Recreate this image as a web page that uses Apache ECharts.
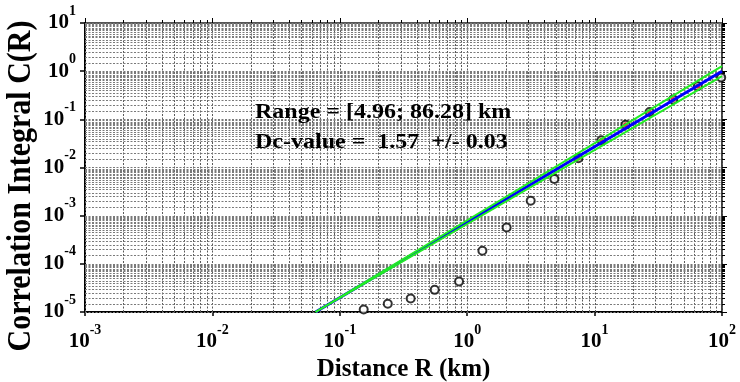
<!DOCTYPE html>
<html><head><meta charset="utf-8">
<script src="https://cdn.jsdelivr.net/npm/echarts@6/dist/echarts.min.js"></script>
<style>html,body{margin:0;padding:0;background:#fff}#c{width:740px;height:382px}</style>
</head><body><div id="c"></div>
<script>
// ---- data ----
const distanceR = [0.154, 0.238, 0.36, 0.556, 0.863, 1.316, 2.04, 3.15, 4.83, 7.45, 11.3, 17.5, 27.0, 41.4, 64.6, 98.6];
const correlationC = [1.13e-5, 1.48e-5, 1.9e-5, 2.88e-5, 4.3e-5, 1.87e-4, 5.7e-4, 2.04e-3, 5.8e-3, 0.0156, 0.0367, 0.0773, 0.1416, 0.2595, 0.489, 0.741];
const fitRangeR = [7.45, 11.3, 17.5, 27.0, 41.4, 64.6];
const fitRangeC = [0.0156, 0.0367, 0.0773, 0.1416, 0.2595, 0.489];
const fitLineR = [0.0645, 100];
const fitLineC = [1e-5, 1.0];
const boundUpperC = [1e-5, 1.27];
const boundLowerC = [1e-5, 0.787];
const xTickExponents = ['-3', '-2', '-1', '0', '1', '2'];
const yTickExponents = ['-5', '-4', '-3', '-2', '-1', '0', '1'];
const xTitle = 'Distance R (km)';
const yTitle = 'Correlation Integral C(R)';
const annotationLines = ['Range = [4.96; 86.28] km', 'Dc-value =  1.57  +/- 0.03'];

const X_MIN = 1e-3, X_MAX = 100, Y_MIN = 1e-5, Y_MAX = 10;
const FONT = '"Liberation Serif", "Times New Roman", serif';

// grid line positions (log-axis minor divisions)
const xMajor = [], xMinor = [], yMajor = [], yMinor = [];
for (let e = -3; e <= 2; e++) xMajor.push(Math.pow(10, e));
for (let e = -3; e <= 1; e++) for (let m = 2; m <= 9; m++) xMinor.push(m * Math.pow(10, e));
for (let e = -5; e <= 1; e++) yMajor.push(Math.pow(10, e));
for (let e = -5; e <= 0; e++) for (let m = 1.5; m <= 9.5; m += 0.5) yMinor.push(m * Math.pow(10, e));

function renderGrid(params, api) {
  const ch = [];
  const dashV = {stroke: '#5a5a5a', lineWidth: 1, lineDash: [2, 1.5], fill: null};
  const dashH = {stroke: '#7a7a7a', lineWidth: 1, lineDash: [2, 1.5], fill: null};
  const tick = {stroke: '#000', lineWidth: 1, fill: null};
  const r = v => Math.round(v) + 0.5;
  const bl = api.coord([X_MIN, Y_MIN]), tr = api.coord([X_MAX, Y_MAX]);
  xMinor.concat(xMajor).forEach(v => {
    const p = api.coord([v, Y_MIN]);
    const x = r(p[0]);
    ch.push({type: 'line', shape: {x1: x, y1: bl[1], x2: x, y2: tr[1]}, style: dashV});
    const major = xMajor.indexOf(v) >= 0;
    ch.push({type: 'line', shape: {x1: x, y1: tr[1], x2: x, y2: tr[1] - (major ? 5 : 3)}, style: tick});
  });
  yMinor.concat(yMajor).forEach(v => {
    const p = api.coord([X_MIN, v]);
    const y = r(p[1]);
    ch.push({type: 'line', shape: {x1: bl[0], y1: y, x2: tr[0], y2: y}, style: dashH});
    const major = yMajor.indexOf(v) >= 0;
    ch.push({type: 'line', shape: {x1: tr[0], y1: y, x2: tr[0] + (major ? 5 : 3), y2: y}, style: tick});
  });
  return {type: 'group', children: ch};
}

const richLabel = {
  b: {fontFamily: FONT, fontWeight: 'bold', fontSize: 21, lineHeight: 22, color: '#000'},
  e: {fontFamily: FONT, fontWeight: 'bold', fontSize: 14, color: '#000', padding: [0, 0, 24, 0]}
};
function expOf(v) { return Math.round(Math.log10(v)); }

const chart = echarts.init(document.getElementById('c'), null, {renderer: 'canvas'});
chart.setOption({
  animation: false,
  backgroundColor: '#fff',
  grid: {left: 85, top: 23, width: 637, height: 289, containLabel: false, outerBoundsMode: 'none'},
  xAxis: [{
    type: 'log', logBase: 10, min: X_MIN, max: X_MAX, position: 'bottom',
    axisLine: {lineStyle: {color: '#000', width: 2}},
    axisTick: {show: true, length: 4, lineStyle: {color: '#000', width: 1.5}},
    splitLine: {show: false}, minorTick: {show: false}, minorSplitLine: {show: false},
    axisLabel: {margin: 11, formatter: v => '{b|10}{e|' + xTickExponents[expOf(v) + 3] + '}', rich: richLabel},
    name: xTitle, nameLocation: 'middle', nameGap: 44,
    nameTextStyle: {fontFamily: FONT, fontWeight: 'bold', fontSize: 25, color: '#000'}
  }, {
    type: 'log', logBase: 10, min: X_MIN, max: X_MAX, position: 'top',
    axisLine: {lineStyle: {color: '#555', width: 2}},
    axisTick: {show: false}, axisLabel: {show: false}, splitLine: {show: false}
  }],
  yAxis: [{
    type: 'log', logBase: 10, min: Y_MIN, max: Y_MAX, position: 'left', splitNumber: 6,
    axisLine: {lineStyle: {color: '#000', width: 2}},
    axisTick: {show: true, length: 5, lineStyle: {color: '#000', width: 1.5}},
    splitLine: {show: false}, minorTick: {show: false},
    axisLabel: {margin: 9, formatter: v => '{b|10}{e|' + yTickExponents[expOf(v) + 5] + '}', rich: richLabel}
  }, {
    type: 'log', logBase: 10, min: Y_MIN, max: Y_MAX, position: 'right', splitNumber: 6,
    axisLine: {lineStyle: {color: '#000', width: 1.5}},
    axisTick: {show: false}, axisLabel: {show: false}, splitLine: {show: false}
  }],
  graphic: [
    {type: 'text', x: 22, y: 186, rotation: Math.PI / 2, scaleY: 1.09, silent: true,
     style: {text: yTitle, font: 'bold 30px ' + FONT, fill: '#000', align: 'center', verticalAlign: 'middle'}},
    {type: 'text', x: 255, y: 113, scaleX: 1.2, silent: true, z: 100,
     style: {text: annotationLines[0], font: 'bold 20px ' + FONT, fill: '#000', align: 'left', verticalAlign: 'middle'}},
    {type: 'text', x: 255, y: 143, scaleX: 1.2, silent: true, z: 100,
     style: {text: annotationLines[1], font: 'bold 20px ' + FONT, fill: '#000', align: 'left', verticalAlign: 'middle'}}
  ],
  series: [
    {type: 'custom', xAxisIndex: 0, yAxisIndex: 0, data: [[1, 1]], renderItem: renderGrid, clip: false, silent: true, z: 1},
    {type: 'scatter', xAxisIndex: 0, yAxisIndex: 0, z: 3, symbol: 'circle', symbolSize: 8,
     itemStyle: {color: '#fff', borderColor: '#000', borderWidth: 2},
     data: distanceR.map((r, i) => [r, correlationC[i]])},
    {type: 'scatter', xAxisIndex: 0, yAxisIndex: 0, z: 3, symbol: 'circle', symbolSize: 5,
     itemStyle: {color: '#e00000'},
     data: fitRangeR.map((r, i) => [r, fitRangeC[i]])},
    {type: 'line', xAxisIndex: 0, yAxisIndex: 0, z: 4, showSymbol: false, symbol: 'none',
     lineStyle: {color: '#0000ff', width: 3}, data: fitLineR.map((r, i) => [r, fitLineC[i]])},
    {type: 'line', xAxisIndex: 0, yAxisIndex: 0, z: 5, showSymbol: false, symbol: 'none',
     lineStyle: {color: '#22ee22', width: 2}, data: fitLineR.map((r, i) => [r, boundUpperC[i]])},
    {type: 'line', xAxisIndex: 0, yAxisIndex: 0, z: 5, showSymbol: false, symbol: 'none',
     lineStyle: {color: '#22ee22', width: 2}, data: fitLineR.map((r, i) => [r, boundLowerC[i]])}
  ]
});
</script>
</body></html>
